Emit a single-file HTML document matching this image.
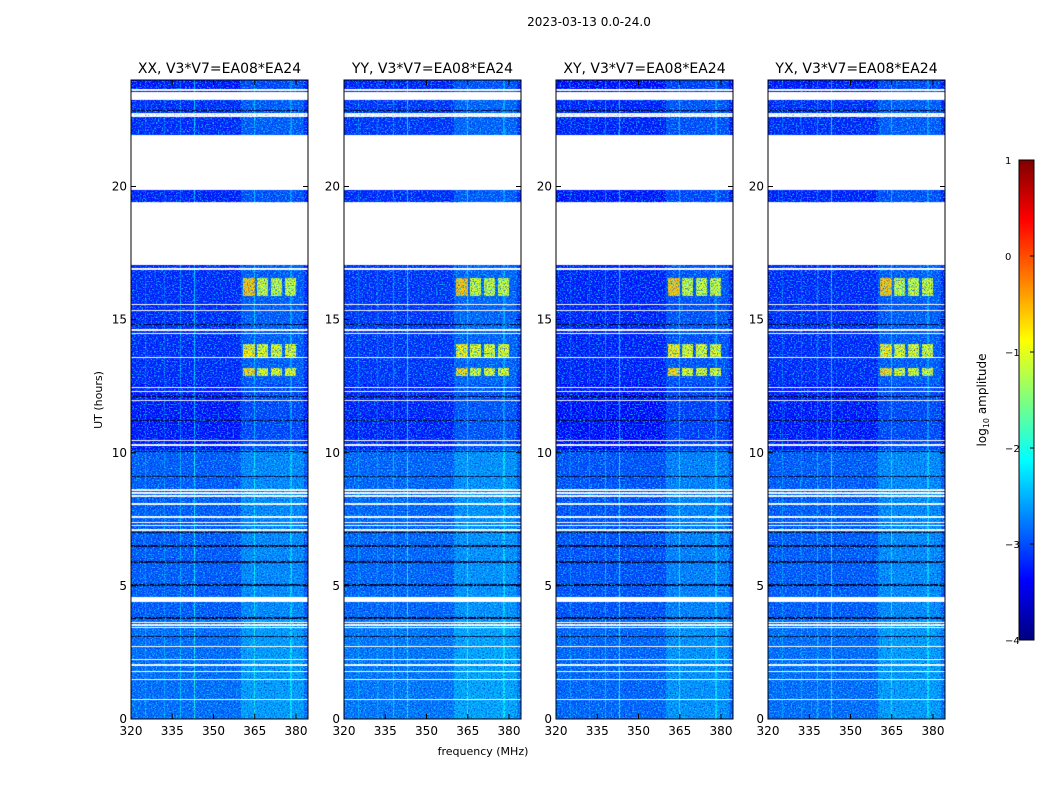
<!DOCTYPE html>
<html><head><meta charset="utf-8"><style>
body{margin:0;background:#fff;width:1050px;height:800px;overflow:hidden;position:relative;font-family:"DejaVu Sans",sans-serif}
canvas{position:absolute}
svg{position:absolute;left:0;top:0}
text{font-family:"DejaVu Sans","Liberation Sans",sans-serif;fill:#000}
</style></head><body>
<div>
<canvas id="cv" width="1050" height="800" style="left:0;top:0"></canvas>
<svg id="sv" width="1050" height="800">
<defs>
<filter id="nzc" x="0" y="0" width="100%" height="100%" color-interpolation-filters="sRGB"><feTurbulence type="fractalNoise" baseFrequency="0.55 0.7" numOctaves="2" seed="3"/><feColorMatrix type="matrix" values="0 0 0 0 0.1  0 0 0 0 0.85  0 0 0 0 1  5 0 0 0 -2.5"/></filter>
<filter id="nzd" x="0" y="0" width="100%" height="100%" color-interpolation-filters="sRGB"><feTurbulence type="fractalNoise" baseFrequency="0.7 0.6" numOctaves="2" seed="11"/><feColorMatrix type="matrix" values="0 0 0 0 0  0 0 0 0 0  0 0 0 0 0.8  5 0 0 0 -2.6"/></filter>
<linearGradient id="jet" x1="0" y1="1" x2="0" y2="0">
<stop offset="0" stop-color="#00007f"/><stop offset="0.125" stop-color="#0000ff"/><stop offset="0.375" stop-color="#0ff"/><stop offset="0.5" stop-color="#7fff7f"/><stop offset="0.625" stop-color="#ff0"/><stop offset="0.875" stop-color="#f00"/><stop offset="1" stop-color="#7f0000"/></linearGradient>
</defs>
<text x="589" y="26" font-size="12" text-anchor="middle">2023-03-13 0.0-24.0</text>
<text x="483" y="755" font-size="11" text-anchor="middle">frequency (MHz)</text>
<text x="102" y="400" font-size="11" text-anchor="middle" transform="rotate(-90 102 400)">UT (hours)</text>
<rect x="1019" y="160" width="15" height="480" fill="url(#jet)" stroke="#000"/>
<text x="986" y="400" font-size="12" text-anchor="middle" transform="rotate(-90 986 400)">log<tspan font-size="8" dy="3">10</tspan><tspan dy="-3"> amplitude</tspan></text>
<g id="axes"></g>
</svg>
</div>
<script>
const panelTitles=["XX, V3*V7=EA08*EA24","YY, V3*V7=EA08*EA24","XY, V3*V7=EA08*EA24","YX, V3*V7=EA08*EA24"];
const panelOffsets=[0,0.05,-0.05,0];
const xTicks=[320,335,350,365,380];
const yTicks=[0,5,10,15,20];
const cbTicks=[1,0,-1,-2,-3,-4];
const levelBands=[[0,3.8,-2.85],[3.8,4.5,-2.95],[4.5,10.1,-2.95],[10.1,12.6,-3.3],[12.6,17.05,-3.2],[19.4,19.85,-3.25],[21.95,23.3,-3.2],[23.3,24,-3.3]];
const whiteGaps=[[17.05,19.4],[19.85,21.95],[23.26,23.56],[23.6,23.66],[22.62,22.67],[22.7,22.75],[16.88,16.94],[15.55,15.6],[15.33,15.38],[14.58,14.63],[14.46,14.51],[13.55,13.6],[12.43,12.48],[12.28,12.33],[11.96,12.0],[10.44,10.49],[10.26,10.31],[8.57,8.62],[8.46,8.51],[8.35,8.4],[8.05,8.1],[7.56,7.61],[7.36,7.41],[7.24,7.29],[7.07,7.12],[4.4,4.6],[3.6,3.65],[3.5,3.55],[3.4,3.45],[2.7,2.75],[2.2,2.25],[2.0,2.05],[1.75,1.8],[1.45,1.5],[0.7,0.75]];
const darkLines=[22.85,14.82,12.12,11.2,10.05,9.1,7.0,6.5,5.9,5.03,4.55,3.82,3.78,3.1,2.0];
const freqBoosts=[[360,383,0.25],[342.8,343.4,0.9],[337.7,338.2,0.5],[364.7,365.2,0.6],[378,378.5,0.4],[325,325.4,0.3],[332,332.4,0.3]];
const rfiFreq=[[360.7,365],[366,369.8],[371,375],[376,380]];
const rfiTimes=[[15.9,16.55,-0.6,-1.1],[13.58,14.1,-0.8,-1.0],[12.9,13.2,-0.7,-1.0]];
const panelX=[131,344,556,768],PW=177,PT=80,PH=639,F0=320,F1=320+177/2.75;
function jet(v){let t=(v+4)/5;t=Math.max(0,Math.min(1,t));const c=x=>Math.round(255*Math.max(0,Math.min(1,1.5-Math.abs(4*t-x))));return [c(3),c(2),c(1)];}
const cv=document.getElementById('cv'),ctx=cv.getContext('2d');
const NS='http://www.w3.org/2000/svg',ax=document.getElementById('axes'),defs=document.querySelector('defs');
function el(tag,attrs,parent){const e=document.createElementNS(NS,tag);for(const k in attrs)e.setAttribute(k,attrs[k]);(parent||ax).appendChild(e);return e;}
panelX.forEach((px,pi)=>{
 const yOf=h=>PT+PH-(h/24)*PH, xOf=f=>px+(f-F0)/(F1-F0)*PW;
 const img=ctx.createImageData(PW,PH);
 for(let r=0;r<PH;r++){
  const h=24*(PH-r-0.5)/PH;
  let white=whiteGaps.some(g=>h>=g[0]&&h<g[1]);
  let base=null;levelBands.forEach(b=>{if(h>=b[0]&&h<b[1])base=b[2];});
  if(base===null)white=true;
  let dark=darkLines.some(d=>Math.abs(h-d)<0.025);
  for(let c=0;c<PW;c++){
   const f=F0+(c+0.5)/PW*(F1-F0);const i=(r*PW+c)*4;
   if(white){img.data[i]=img.data[i+1]=img.data[i+2]=255;img.data[i+3]=255;continue;}
   let v=base+panelOffsets[pi];
   freqBoosts.forEach(b=>{if(f>=b[0]&&f<b[1])v+=b[2];});
   rfiTimes.forEach((t,ti)=>{if(h>=t[0]&&h<t[1])rfiFreq.forEach((fr,fi)=>{if(f>=fr[0]&&f<fr[1])v=fi==0?t[2]:t[3];});});
   let col=dark?[0,0,40]:jet(v);
   img.data[i]=col[0];img.data[i+1]=col[1];img.data[i+2]=col[2];img.data[i+3]=255;
  }
 }
 ctx.putImageData(img,px,PT);
 const m=el('mask',{id:'m'+pi},defs);
 el('rect',{x:px,y:PT,width:PW,height:PH,fill:'#fff'},m);
 whiteGaps.forEach(g=>el('rect',{x:px,y:yOf(g[1]),width:PW,height:yOf(g[0])-yOf(g[1]),fill:'#000'},m));
 const nz=el('rect',{x:px,y:PT,width:PW,height:PH,filter:'url(#nzc)',opacity:0.7,mask:'url(#m'+pi+')'});
 
 
 const nd=el('rect',{x:px,y:PT,width:PW,height:PH,filter:'url(#nzd)',opacity:0.45,mask:'url(#m'+pi+')'});
 
 
 const fr=el('rect',{x:px,y:PT,width:PW,height:PH,fill:'none',stroke:'#000','stroke-width':1});
 
 
 const tt=el('text',{x:px+PW/2,y:73,'font-size':14,'text-anchor':'middle'});tt.textContent=panelTitles[pi];
 
 
 xTicks.forEach(t=>{const x=xOf(t);
  el('line',{x1:x,x2:x,y1:PT+PH,y2:PT+PH-5,stroke:'#000'});el('line',{x1:x,x2:x,y1:PT,y2:PT+5,stroke:'#000'});
  const l=el('text',{x:x,y:PT+PH+16,'font-size':12,'text-anchor':'middle'});l.textContent=t;
  
  });
 yTicks.forEach(t=>{const y=yOf(t);
  el('line',{x1:px,x2:px+5,y1:y,y2:y,stroke:'#000'});el('line',{x1:px+PW,x2:px+PW-5,y1:y,y2:y,stroke:'#000'});
  const l=el('text',{x:px-4,y:y+4,'font-size':12,'text-anchor':'end'});l.textContent=t;
  
  });
});
cbTicks.forEach(t=>{const y=160+(1-t)/5*480;
 el('line',{x1:1030,x2:1034,y1:y,y2:y,stroke:'#000'});
 const l=el('text',{x:1005,y:y+4,'font-size':10,'text-anchor':'start'});l.textContent=t<0?'\u2212'+(-t):t;
 
 });
</script>
</body></html>
